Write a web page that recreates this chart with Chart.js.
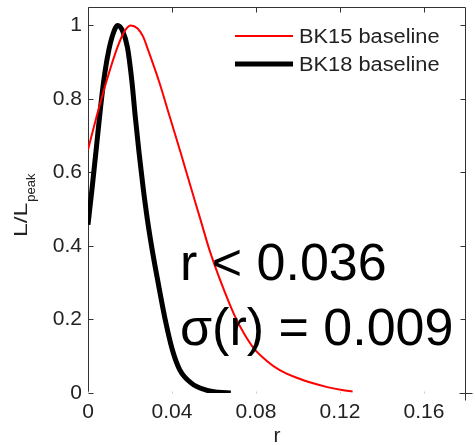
<!DOCTYPE html>
<html><head><meta charset="utf-8">
<script src="https://cdn.jsdelivr.net/npm/chart.js@4.4.0/dist/chart.umd.min.js"></script>
<style>html,body{margin:0;padding:0;background:#fff}#wrap{width:475px;height:445px}</style>
</head><body><div id="wrap"><canvas id="c" width="475" height="445"></canvas></div>
<script>
const seriesLabels = ['BK15 baseline', 'BK18 baseline'];
const seriesColors = ['#ff0000', '#000000'];
const rBK15 = [0, 0.004, 0.0088, 0.014, 0.0175, 0.0204, 0.0235, 0.0262, 0.0285, 0.0338, 0.0389, 0.0441, 0.0489, 0.0536, 0.0578, 0.0634, 0.0697, 0.0745, 0.0792, 0.085, 0.0911, 0.1, 0.1068, 0.114, 0.121, 0.126];
const lBK15 = [0.662, 0.75, 0.848, 0.94, 0.985, 1.0, 0.992, 0.97, 0.935, 0.848, 0.752, 0.654, 0.561, 0.471, 0.39, 0.30, 0.212, 0.16, 0.12, 0.088, 0.063, 0.04, 0.027, 0.016, 0.008, 0.004];
const rBK18 = [0, 0.002, 0.004, 0.006, 0.008, 0.010, 0.012, 0.0141, 0.0165, 0.0188, 0.0209, 0.0225, 0.0243, 0.0262, 0.0283, 0.0307, 0.0334, 0.0365, 0.0402, 0.0437, 0.0492, 0.0563, 0.062, 0.068];
const lBK18 = [0.458, 0.56, 0.668, 0.778, 0.87, 0.935, 0.978, 1.0, 0.985, 0.94, 0.848, 0.752, 0.654, 0.561, 0.471, 0.385, 0.30, 0.207, 0.117, 0.063, 0.027, 0.008, 0.002, 0.0];
const xTicks = [0, 0.04, 0.08, 0.12, 0.16];
const xTickLabels = ['0', '0.04', '0.08', '0.12', '0.16'];
const yTicks = [0, 0.2, 0.4, 0.6, 0.8, 1];
const yTickLabels = ['0', '0.2', '0.4', '0.6', '0.8', '1'];
const xTitle = 'r';
const yTitleMain = 'L/L';
const yTitleSub = 'peak';
const annotLines = ['r < 0.036', 'σ(r) = 0.009'];

const FONT = '"Liberation Sans", Arial, Helvetica, sans-serif';
const toXY = (xs, ys) => xs.map((x, i) => ({x: x, y: ys[i]}));

const framePlugin = {
  id: 'frame',
  beforeDatasetsDraw(chart) {
    const {ctx, chartArea: a, scales} = chart;
    const L = Math.round(a.left) + 0.5, R = Math.round(a.right) - 0.5;
    const T = Math.round(a.top) + 0.5, B = Math.round(a.bottom) + 0.5;
    ctx.save();
    ctx.strokeStyle = '#333';
    ctx.lineWidth = 1;
    const seg = (x1, y1, x2, y2) => { ctx.beginPath(); ctx.moveTo(x1, y1); ctx.lineTo(x2, y2); ctx.stroke(); };
    seg(L, T, L, B);
    seg(L, T, R, T);
    seg(R, T, R, B + 7);
    seg(R - 6, B, R + 7, B);
    yTicks.forEach(v => {
      const y = Math.round(scales.y.getPixelForValue(v)) + 0.5;
      seg(L, y, L + 5, y);
      seg(R - 5, y, R, y);
    });
    xTicks.forEach(v => {
      const x = Math.round(scales.x.getPixelForValue(v)) + 0.5;
      seg(x, T, x, T + 5);
    });
    ctx.strokeStyle = '#ccc';
    xTicks.forEach(v => {
      const x = Math.round(scales.x.getPixelForValue(v)) + 0.5;
      seg(x, B - 2, x, B);
    });
    ctx.restore();
  },
  afterDraw(chart) {
    const {ctx} = chart;
    ctx.save();
    ctx.translate(27, 237);
    ctx.rotate(-Math.PI / 2);
    ctx.fillStyle = '#222';
    ctx.textBaseline = 'alphabetic';
    ctx.textAlign = 'left';
    ctx.font = '19px ' + FONT;
    const sx = 1.3;
    ctx.save(); ctx.scale(sx, 1); ctx.fillText(yTitleMain, 0, 0); ctx.restore();
    const w = ctx.measureText(yTitleMain).width * sx;
    ctx.font = '13px ' + FONT;
    ctx.fillText(yTitleSub, w + 1, 8);
    ctx.restore();

    ctx.save();
    chart.data.datasets.forEach((ds, i) => {
      const y = 36 + i * 28;
      ctx.strokeStyle = ds.borderColor;
      ctx.lineWidth = ds.borderWidth;
      ctx.beginPath(); ctx.moveTo(235, y); ctx.lineTo(293, y); ctx.stroke();
      ctx.save();
      ctx.translate(299, y + 1);
      ctx.scale(1.09, 1);
      ctx.font = '20px ' + FONT;
      ctx.fillStyle = '#222';
      ctx.textBaseline = 'middle';
      ctx.fillText(ds.label, 0, 0);
      ctx.restore();
    });
    ctx.restore();

    ctx.save();
    ctx.font = '52px ' + FONT;
    ctx.fillStyle = '#000';
    ctx.textBaseline = 'alphabetic';
    ctx.fillText(annotLines[0], 180, 280);
    ctx.fillText(annotLines[1], 180, 345);
    ctx.restore();
  }
};

new Chart(document.getElementById('c'), {
  type: 'line',
  data: {
    datasets: [
      {label: seriesLabels[0], data: toXY(rBK15, lBK15), borderColor: seriesColors[0], borderWidth: 2, pointRadius: 0, fill: false, cubicInterpolationMode: 'monotone'},
      {label: seriesLabels[1], data: toXY(rBK18, lBK18), borderColor: seriesColors[1], borderWidth: 5, pointRadius: 0, fill: false, cubicInterpolationMode: 'monotone'}
    ]
  },
  options: {
    responsive: false,
    animation: false,
    devicePixelRatio: 1,
    layout: {padding: {top: 7, right: 9, left: 0, bottom: 0}},
    plugins: {legend: {display: false}, tooltip: {enabled: false}},
    scales: {
      x: {
        type: 'linear', min: 0, max: 0.18,
        afterBuildTicks: s => { s.ticks = xTicks.map(v => ({value: v})); },
        afterFit: s => { s.height = 52; s.paddingLeft = 0; s.paddingRight = 0; },
        grid: {display: false, drawTicks: false},
        border: {display: false},
        ticks: {padding: 7, color: '#222', autoSkip: false, maxRotation: 0, font: {family: FONT, size: 21},
          callback: v => xTickLabels[xTicks.indexOf(v)]},
        title: {display: true, text: xTitle, color: '#222', padding: 0, font: {family: FONT, size: 21, lineHeight: 0.8}}
      },
      y: {
        type: 'linear', min: 0, max: 1.05,
        afterBuildTicks: s => { s.ticks = yTicks.map(v => ({value: v})); },
        afterFit: s => { s.width = 88; s.paddingTop = 0; s.paddingBottom = 0; },
        grid: {display: false, drawTicks: false},
        border: {display: false},
        ticks: {padding: 6, color: '#222', autoSkip: false, font: {family: FONT, size: 21},
          callback: v => yTickLabels[yTicks.indexOf(v)]}
      }
    }
  },
  plugins: [framePlugin]
});
</script>
</body></html>
